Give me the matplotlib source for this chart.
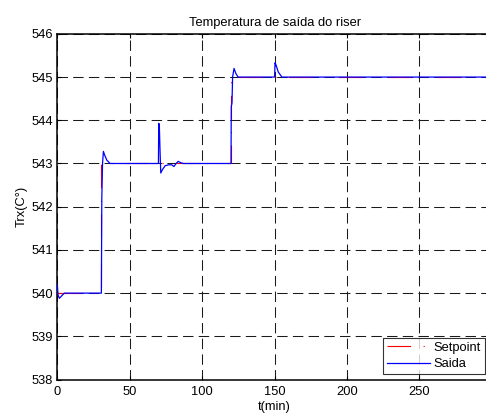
import matplotlib
matplotlib.use("Agg")
import matplotlib.pyplot as plt

plt.rcParams['font.family'] = ['Liberation Sans', 'DejaVu Sans']
plt.rcParams['lines.scale_dashes'] = False

# Setpoint trajectory (step changes)
sp_t = [0, 30, 30, 120, 120, 300]
sp_v = [540, 540, 543, 543, 545, 545]

# Controlled output (riser exit temperature)
out_t = [0, 0.5, 1.4, 2.8, 4.8, 30.4, 30.7, 31.2, 31.8, 32.6, 34.1, 36.4,
         69.8, 70.0, 70.4, 70.9, 71.4, 72.6, 74.5, 77.0, 79.0, 80.5, 82.0,
         83.5, 85.0, 87.0, 119.9, 120.1, 120.6, 121.0, 122.0, 123.3, 124.8,
         150.0, 150.3, 151.0, 152.5, 155.0, 300]
out_v = [540.19, 539.95, 539.88, 539.93, 540.0, 540.0, 542.2, 543.0, 543.28, 543.2, 543.08, 543.0,
         543.0, 543.93, 543.9, 543.3, 542.78, 542.86, 542.95, 542.97, 542.97, 542.93, 543.0,
         543.05, 543.02, 543.0, 543.0, 544.32, 544.4, 545.0, 545.2, 545.08, 545.0,
         545.0, 545.33, 545.28, 545.12, 545.0, 545.0]

x_ticks = [0, 50, 100, 150, 200, 250]
y_ticks = [538, 539, 540, 541, 542, 543, 544, 545, 546]

fs = 9.3

fig = plt.figure(figsize=(4.86, 4.18), dpi=100)
ax = fig.add_axes([0.118, 0.092, 0.894, 0.827])

ax.plot(sp_t, sp_v, color='#ff0000', linewidth=0.8,
        linestyle=(0, (17, 9, 0.8, 9)), label='Setpoint', zorder=3)
ax.plot(out_t, out_v, color='#0000ff', linewidth=0.9, label='Saida', zorder=4)

ax.set_xlim(0, 300)
ax.set_ylim(538, 546)
ax.set_xticks(x_ticks)
ax.set_yticks(y_ticks)
ax.tick_params(axis='x', direction='in', length=3, width=0.8, labelsize=fs,
               pad=5, top=True)
ax.tick_params(axis='y', direction='in', length=3, width=0.8, labelsize=fs,
               pad=3, right=True)
ax.grid(True, color='#1a1a1a', linestyle=(0, (7.5, 3.8)), linewidth=0.75)
for s in ax.spines.values():
    s.set_linewidth(1.1)

ax.set_title('Temperatura de saída do riser', fontsize=fs, pad=6)
ax.set_xlabel('t(min)', fontsize=fs, labelpad=2)
ax.set_ylabel('Trx(C°)', fontsize=fs, labelpad=3)

leg = ax.legend(loc='lower left', bbox_to_anchor=(383 / 486, 1 - 374 / 418),
                bbox_transform=fig.transFigure, fontsize=fs, frameon=True,
                fancybox=False, edgecolor='black', handlelength=3.3,
                handletextpad=0.3, borderpad=0.3, labelspacing=0.35,
                borderaxespad=0)
leg.get_frame().set_linewidth(0.8)

fig.savefig('out.png', dpi=100)
